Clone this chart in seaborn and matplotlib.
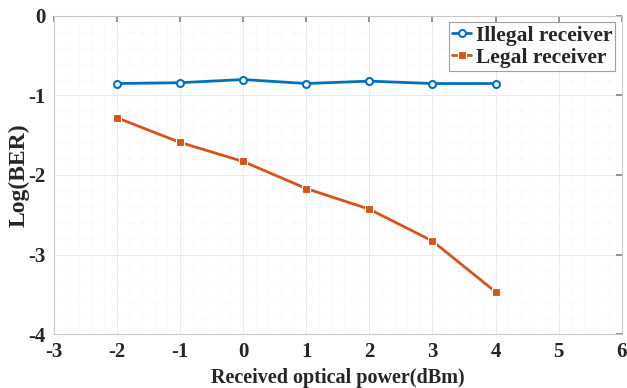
import matplotlib
matplotlib.use("Agg")
import matplotlib.pyplot as plt
import seaborn as sns
import pandas as pd
from matplotlib.ticker import MultipleLocator

power = [-2, -1, 0, 1, 2, 3, 4]
illegal = [-0.85, -0.84, -0.80, -0.85, -0.82, -0.85, -0.85]
legal = [-1.28, -1.59, -1.83, -2.17, -2.43, -2.83, -3.47]
series_names = ["Illegal receiver", "Legal receiver"]

df = pd.DataFrame({
    "power": power * 2,
    "logber": illegal + legal,
    "series": [series_names[0]] * len(power) + [series_names[1]] * len(power),
})

sns.set_theme(style="white")
plt.rcParams['font.family'] = ['Liberation Serif', 'DejaVu Serif']
plt.rcParams['font.weight'] = 'bold'
plt.rcParams['axes.unicode_minus'] = False

fig = plt.figure(figsize=(6.27, 3.88), dpi=100)
ax = fig.add_axes([0.0857, 0.139, 0.906, 0.820])

palette = {series_names[0]: "#0072BD", series_names[1]: "#D95319"}
markers = {series_names[0]: "o", series_names[1]: "s"}
sns.lineplot(data=df, x="power", y="logber", hue="series", style="series",
             palette=palette, markers=markers, dashes=False, linewidth=2,
             markersize=5, ax=ax)
for line in ax.lines:
    if line.get_marker() == "o":
        line.set_markerfacecolor("white")
        line.set_markeredgewidth(1.5)
        line.set_markeredgecolor("#0072BD")
    elif line.get_marker() == "s":
        line.set_markeredgecolor("white")
        line.set_markeredgewidth(0.8)
        line.set_markersize(6)

ax.set_xlim(-3, 6)
ax.set_ylim(-4, 0)
ax.xaxis.set_major_locator(MultipleLocator(1))
ax.yaxis.set_major_locator(MultipleLocator(1))
ax.xaxis.set_minor_locator(MultipleLocator(0.2))
ax.yaxis.set_minor_locator(MultipleLocator(0.2))
ax.grid(which="major", color="#e8e8e8", linewidth=0.6)
ax.grid(which="minor", color="#f0f0f0", linewidth=0.5, linestyle=":")
ax.tick_params(which="major", direction="in", length=4, top=True, right=True,
               labelsize=15, color="#888888")
ax.tick_params(axis="x", which="major", pad=6)
ax.tick_params(axis="y", which="major", pad=6)
ax.tick_params(which="minor", length=0)
for lab in ax.get_xticklabels() + ax.get_yticklabels():
    lab.set_fontweight("bold")
for s in ax.spines.values():
    s.set_color("#c8c8c8")
    s.set_linewidth(0.8)

ax.set_xlabel("Received optical power(dBm)", fontsize=14.5, fontweight="bold")
ax.set_ylabel("Log(BER)", fontsize=17, fontweight="bold")
ax.xaxis.set_label_coords(0.5, -0.108)
ax.yaxis.set_label_coords(-0.043, 0.5)

leg = ax.legend(loc="upper right", fontsize=15.5, frameon=True, fancybox=False,
                borderpad=0.15, handlelength=0.9, handletextpad=0.2,
                labelspacing=0.1, borderaxespad=0.3)
leg.get_frame().set_edgecolor("#888888")
leg.get_frame().set_linewidth(0.8)
for t in leg.get_texts():
    t.set_fontweight("bold")

fig.savefig("out.png", dpi=100)
